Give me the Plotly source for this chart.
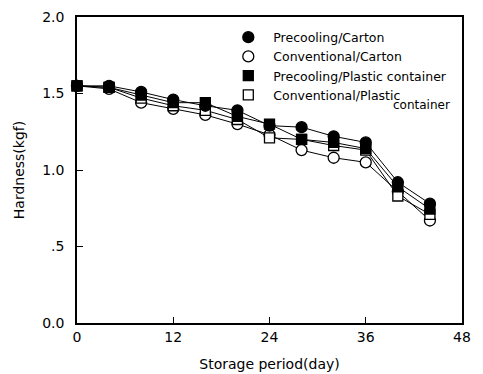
import plotly.graph_objects as go

days = [0, 4, 8, 12, 16, 20, 24, 28, 32, 36, 40, 44]
precool_carton = [1.55, 1.55, 1.51, 1.46, 1.42, 1.39, 1.29, 1.28, 1.22, 1.18, 0.92, 0.78]
conv_carton = [1.55, 1.53, 1.44, 1.40, 1.36, 1.30, 1.23, 1.13, 1.08, 1.05, 0.86, 0.67]
precool_plastic = [1.55, 1.54, 1.49, 1.44, 1.44, 1.35, 1.30, 1.20, 1.18, 1.14, 0.89, 0.745]
conv_plastic = [1.55, 1.54, 1.47, 1.42, 1.39, 1.33, 1.21, 1.20, 1.16, 1.13, 0.83, 0.71]

x_ticks = [0, 12, 24, 36, 48]
y_ticks = [0, 0.5, 1.0, 1.5, 2.0]
y_ticktext = ["0.0", ".5", "1.0", "1.5", "2.0"]

FONT = "DejaVu Sans"

fig = go.Figure()

series = [
    ("Conventional/Carton", conv_carton, "circle", True, 2),
    ("Conventional/Plastic", conv_plastic, "square", True, 4),
    ("Precooling/Plastic container", precool_plastic, "square", False, 3),
    ("Precooling/Carton", precool_carton, "circle", False, 1),
]
for name, vals, sym, open_, rank in series:
    mk = dict(symbol=sym, size=11 if sym == "circle" else 10,
              color="white" if open_ else "black",
              line=dict(color="black", width=1.3))
    fig.add_trace(go.Scatter(
        x=days, y=vals, name=name, mode="lines+markers",
        line=dict(color="black", width=1), marker=mk,
        cliponaxis=False, showlegend=False,
    ))
    # legend entry: marker only
    fig.add_trace(go.Scatter(
        x=[None], y=[None], name=name, mode="markers", marker=mk,
        showlegend=True, legendrank=rank,
    ))

fig.add_annotation(x=0.975, y=(323 - 105) / 306, xref="paper", yref="paper",
                   text="container", showarrow=False, xanchor="right", yanchor="middle",
                   font=dict(family=FONT, size=12, color="black"))

axis_common = dict(showline=True, linecolor="black", linewidth=1.5, mirror=True,
                   ticks="inside", ticklen=6, tickcolor="black", tickwidth=1,
                   showgrid=False, zeroline=False, automargin=False,
                   tickfont=dict(family=FONT, size=14, color="black"))

fig.update_xaxes(range=[0, 48], tickvals=x_ticks, title=dict(text="Storage period(day)",
                 font=dict(family=FONT, size=14, color="black"), standoff=16), **axis_common)
fig.update_yaxes(range=[0, 2], tickvals=y_ticks, ticktext=y_ticktext, ticklabelstandoff=8,
                 title=dict(text="Hardness(kgf)", font=dict(family=FONT, size=14, color="black"), standoff=14),
                 **axis_common)

fig.update_layout(
    width=483, height=374,
    margin=dict(l=77, r=21, t=17, b=51, autoexpand=False),
    paper_bgcolor="white", plot_bgcolor="white",
    font=dict(family=FONT, color="black"),
    legend=dict(x=0.38, y=0.982, xanchor="left", yanchor="top",
                bgcolor="rgba(0,0,0,0)", font=dict(family=FONT, size=12.5, color="black"),
                itemwidth=40, tracegroupgap=0),
)

fig.write_html("out.html")
